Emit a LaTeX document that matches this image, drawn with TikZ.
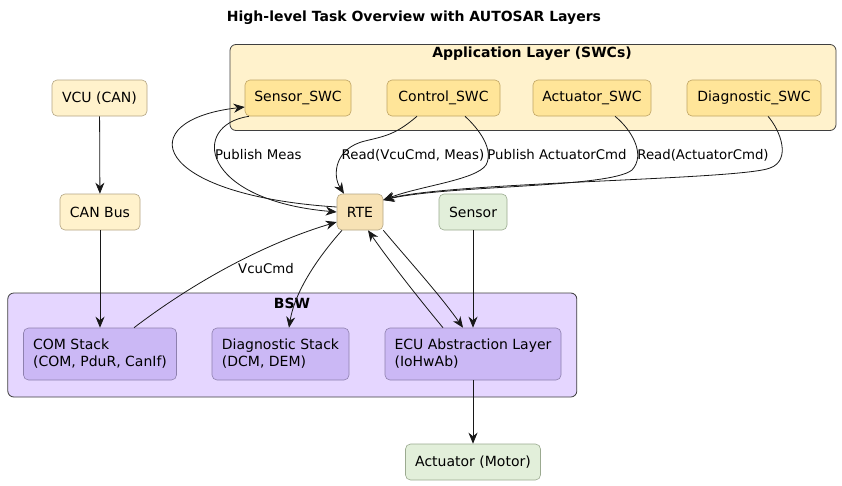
\documentclass[tikz,border=0pt]{standalone}
\usepackage{fontspec}
\setmainfont{DejaVu Sans}
\usetikzlibrary{arrows.meta}
\definecolor{appfill}{HTML}{FFF2CC}
\definecolor{swcfill}{HTML}{FFE599}
\definecolor{swcdraw}{HTML}{BFA464}
\definecolor{hwfill}{HTML}{FFF2CC}
\definecolor{hwdraw}{HTML}{B3A584}
\definecolor{rtefill}{HTML}{F7E2B5}
\definecolor{grfill}{HTML}{E2EFDA}
\definecolor{grdraw}{HTML}{9BAA90}
\definecolor{bswfill}{HTML}{E5D6FF}
\definecolor{bswnode}{HTML}{CBB8F5}
\definecolor{bswdraw}{HTML}{8E80AE}
\definecolor{clusterdraw}{HTML}{3F3F3F}
\definecolor{edgecol}{HTML}{181818}
\tikzset{
  box/.style={draw, rounded corners=5pt, inner sep=0pt, line width=0.6pt,
    font=\fontsize{14}{17}\selectfont, minimum height=36pt},
  swcbox/.style={box, fill=swcfill, draw=swcdraw},
  hwbox/.style={box, fill=hwfill, draw=hwdraw},
  greenbox/.style={box, fill=grfill, draw=grdraw},
  bswbox/.style={box, fill=bswnode, draw=bswdraw, align=left, minimum height=52pt},
  clusterbox/.style={draw=clusterdraw, rounded corners=6pt, line width=0.8pt, inner sep=0pt},
  clusterlbl/.style={font=\bfseries\fontsize{14}{17}\selectfont, inner sep=0pt},
  lbl/.style={font=\fontsize{13.3}{15}\selectfont, inner sep=0pt},
  arr/.style={draw=edgecol, line width=0.8pt, -{Stealth[length=11pt,width=9pt,inset=3.5pt]}},
}
\begin{document}
\begin{tikzpicture}[x=1pt,y=-1pt]
\useasboundingbox (0,0) rectangle (842,485);
\fill[white] (0,0) rectangle (842,485);

% title
\node[clusterlbl] (title) at (414,18) {High-level Task Overview with AUTOSAR Layers};

% clusters
\node[clusterbox, fill=appfill, minimum width=606pt, minimum height=86pt] (app) at (533,87.5) {};
\node[clusterlbl] (applbl) at (532,54) {Application Layer (SWCs)};
\node[clusterbox, fill=bswfill, minimum width=569pt, minimum height=104pt] (bsw) at (292.3,345) {};
\node[clusterlbl] (bswlbl) at (292,303) {BSW};

% nodes
\node[swcbox, minimum width=106pt] (sswc) at (298,98) {Sensor\_SWC};
\node[swcbox, minimum width=113pt] (cswc) at (443.5,98) {Control\_SWC};
\node[swcbox, minimum width=118pt] (aswc) at (592,98) {Actuator\_SWC};
\node[swcbox, minimum width=134pt] (dswc) at (754,98) {Diagnostic\_SWC};

\node[hwbox, minimum width=95pt] (vcu) at (99.5,98) {VCU (CAN)};
\node[hwbox, minimum width=80pt] (canbus) at (100,212) {CAN Bus};
\node[box, fill=rtefill, draw=hwdraw, minimum width=46pt] (rte) at (360,212) {RTE};
\node[greenbox, minimum width=68pt] (sensor) at (473,212) {Sensor};

\node[bswbox, minimum width=153pt] (com) at (100,354) {COM Stack\\(COM, PduR, CanIf)};
\node[bswbox, minimum width=137pt] (diag) at (280.5,354) {Diagnostic Stack\\(DCM, DEM)};
\node[bswbox, minimum width=176pt] (ecu) at (473,354) {ECU Abstraction Layer\\(IoHwAb)};
\node[greenbox, minimum width=135pt] (act) at (473,462) {Actuator (Motor)};

% straight edges
\draw[arr] (vcu) -- (canbus);
\draw[arr] (canbus) -- (com);
\draw[arr] (sensor) -- (ecu);
\draw[arr] (ecu) -- (act);

% BSW <-> RTE
\draw[arr] ([xshift=34pt]com.north) .. controls (190,285) and (260,245) .. ([yshift=-10pt]rte.west);
\node[lbl] (lvcu) at (266,269) {VcuCmd};
\draw[arr] ([xshift=-18pt]rte.south) .. controls (320,255) and (295,290) .. ([xshift=8.5pt]diag.north);
\draw[arr] (rte.south east) .. controls (410,262) and (440,295) .. ([xshift=-10pt]ecu.north);
\draw[arr] ([xshift=-30pt]ecu.north) .. controls (420,300) and (390,262) .. ([xshift=8pt]rte.south);

% SWC <-> RTE
\draw[arr] ([xshift=-49pt]sswc.south) .. controls (190,125) and (200,200) .. ([yshift=0pt]rte.west);
\node[lbl, anchor=west] (lpub) at (215,155) {Publish Meas};
\draw[arr] ([yshift=5pt]rte.west) .. controls (150,195) and (130,120) .. ([yshift=-9pt]sswc.west);

\draw[arr] ([xshift=-26.5pt]cswc.south) .. controls (395,135) and (385,136) .. (365,141)
   .. controls (335,148) and (332,175) .. ([xshift=-16pt]rte.north);
\node[lbl] (lread) at (413,155) {Read(VcuCmd, Meas)};

\draw[arr] ([xshift=21.5pt]cswc.south) .. controls (480,130) and (494,150) .. (486,165)
   .. controls (476,180) and (420,186) .. ([yshift=12pt]rte.east);
\node[lbl] (lpubact) at (557,155) {Publish ActuatorCmd};

\draw[arr] ([xshift=23pt]aswc.south) .. controls (632,130) and (646,155) .. (632,170)
   .. controls (610,188) and (450,185) .. ([yshift=12pt]rte.east);
\node[lbl] (lreadact) at (703,155) {Read(ActuatorCmd)};

\draw[arr] ([xshift=14pt]dswc.south) .. controls (780,130) and (792,160) .. (770,168)
   .. controls (740,180) and (450,182) .. ([yshift=12pt]rte.east);
\end{tikzpicture}
\end{document}
